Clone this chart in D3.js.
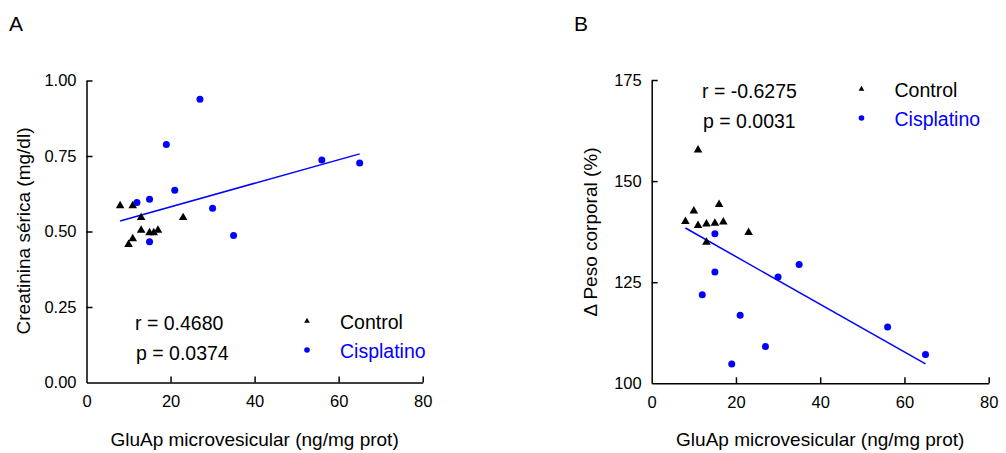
<!DOCTYPE html>
<html>
<head>
<meta charset="utf-8">
<script src="https://cdn.jsdelivr.net/npm/d3@7"></script>
<style>
  body { margin: 0; background: #fff; }
  svg { display: block; font-family: Arial, "Liberation Sans", sans-serif; }
</style>
</head>
<body>
<svg id="chart" width="1006" height="453"></svg>
<script>
// Panel A: serum creatinine vs microvesicular GluAp
const ctrlAx = [8, 11, 13, 23, 13, 15, 16, 17, 11, 10];
const ctrlAy = [0.585, 0.585, 0.546, 0.546, 0.504, 0.496, 0.496, 0.504, 0.476, 0.457];
const cisAx = [27, 19, 21, 15, 12, 30, 35, 15, 56, 65];
const cisAy = [0.938, 0.788, 0.637, 0.607, 0.596, 0.577, 0.487, 0.466, 0.737, 0.727];
const fitAx = [8, 65];
const fitAy = [0.535, 0.757];

// Panel B: body weight change vs microvesicular GluAp
const ctrlBx = [8, 10, 11, 11, 13, 15, 16, 17, 23, 13];
const ctrlBy = [140.0, 142.6, 157.7, 139.0, 139.4, 139.6, 144.2, 139.9, 137.3, 134.9];
const cisBx = [15, 15, 12, 21, 19, 27, 30, 35, 56, 65];
const cisBy = [137.0, 127.5, 121.9, 116.8, 104.8, 109.1, 126.3, 129.4, 113.9, 107.1];
const fitBx = [8, 65];
const fitBy = [138.4, 104.8];

const xTicks = [0, 20, 40, 60, 80];
const yTicksA = [0, 0.25, 0.5, 0.75, 1.0];
const yTicksB = [100, 125, 150, 175];

const BLUE = "#0000ff";
const svg = d3.select("#chart");

function panel(opt) {
  const x = d3.scaleLinear().domain([0, 80]).range(opt.xr);
  const y = d3.scaleLinear().domain(opt.yd).range(opt.yr);
  const g = svg.append("g");

  // axes with inward ticks
  const xa = g.append("g")
    .attr("transform", `translate(0,${opt.yr[0]})`)
    .call(d3.axisBottom(x).tickValues(xTicks).tickSizeInner(-6).tickSizeOuter(0).tickPadding(13));
  const ya = g.append("g")
    .attr("transform", `translate(${opt.xr[0]},0)`)
    .call(d3.axisLeft(y).tickValues(opt.yTicks).tickSizeInner(-6).tickSizeOuter(0)
      .tickPadding(16).tickFormat(opt.yFmt));
  [xa, ya].forEach(a => {
    a.selectAll(".domain, .tick line").attr("stroke", "#000").attr("stroke-width", 1.5);
    a.selectAll("text").attr("font-size", "16.5px").attr("fill", "#000")
      .attr("font-family", "Arial, 'Liberation Sans', sans-serif");
  });
  xa.selectAll(".tick").filter(d => d === 0).select("line").remove();
  ya.selectAll(".tick").filter((d, i) => i === 0).select("line").remove();
  ya.selectAll("text").attr("dx", 6);
  xa.selectAll("text").attr("dy", "0.71em");

  // regression line
  g.append("path")
    .datum(d3.zip(opt.fitX, opt.fitY))
    .attr("d", d3.line().x(d => x(d[0])).y(d => y(d[1])))
    .attr("fill", "none").attr("stroke", BLUE).attr("stroke-width", 1.5);

  // control triangles
  const tri = d3.symbol().type(d3.symbolTriangle).size(32);
  g.selectAll(".ctrl").data(d3.zip(opt.cx, opt.cy)).join("path")
    .attr("class", "ctrl")
    .attr("d", tri)
    .attr("transform", d => `translate(${x(d[0])},${y(d[1])})`)
    .attr("fill", "#000");

  // cisplatin circles
  g.selectAll(".cis").data(d3.zip(opt.bx, opt.by)).join("circle")
    .attr("class", "cis")
    .attr("cx", d => x(d[0])).attr("cy", d => y(d[1]))
    .attr("r", 3.5).attr("fill", BLUE);

  // axis titles
  g.append("text")
    .attr("x", (opt.xr[0] + opt.xr[1]) / 2).attr("y", 446)
    .attr("text-anchor", "middle").attr("font-size", "19px")
    .text("GluAp microvesicular (ng/mg prot)");
  g.append("text")
    .attr("transform", `translate(${opt.ylx},${opt.yly}) rotate(-90)`)
    .attr("text-anchor", "middle").attr("font-size", "19px")
    .text(opt.ylabel);

  // panel letter
  g.append("text").attr("x", opt.letterX).attr("y", 31)
    .attr("font-size", "21px").text(opt.letter);

  // stats text
  g.append("text").attr("x", opt.statX).attr("y", opt.statY)
    .attr("font-size", "19.5px").text(opt.r);
  g.append("text").attr("x", opt.statX + 1).attr("y", opt.statY + 30)
    .attr("font-size", "19.5px").text(opt.p);

  // legend
  const lg = svg.append("g").attr("transform", `translate(${opt.legX},${opt.legY})`);
  lg.append("path").attr("d", d3.symbol().type(d3.symbolTriangle).size(14))
    .attr("transform", "translate(0,-1)").attr("fill", "#000");
  lg.append("circle").attr("cx", 0).attr("cy", 28).attr("r", 2.8).attr("fill", BLUE);
  lg.append("text").attr("x", 33).attr("y", 6.5).attr("font-size", "19.5px").text("Control");
  lg.append("text").attr("x", 33).attr("y", 35.5).attr("font-size", "19.5px")
    .attr("fill", BLUE).text("Cisplatino");
}

panel({
  xr: [86.5, 422.7], yd: [0, 1], yr: [382.5, 80.5], yTicks: yTicksA,
  yFmt: d3.format(".2f"),
  cx: ctrlAx, cy: ctrlAy, bx: cisAx, by: cisAy, fitX: fitAx, fitY: fitAy,
  ylabel: "Creatinina sérica (mg/dl)", ylx: 30, yly: 231,
  letter: "A", letterX: 9,
  statX: 135, statY: 330, r: "r = 0.4680", p: "p = 0.0374",
  legX: 307, legY: 322
});

panel({
  xr: [651.7, 988.7], yd: [100, 175], yr: [383.3, 80], yTicks: yTicksB,
  yFmt: d3.format("d"),
  cx: ctrlBx, cy: ctrlBy, bx: cisBx, by: cisBy, fitX: fitBx, fitY: fitBy,
  ylabel: "\u0394 Peso corporal (%)", ylx: 597, yly: 232,
  letter: "B", letterX: 574,
  statX: 702, statY: 98, r: "r = -0.6275", p: "p = 0.0031",
  legX: 861.5, legY: 90
});
</script>
</body>
</html>
